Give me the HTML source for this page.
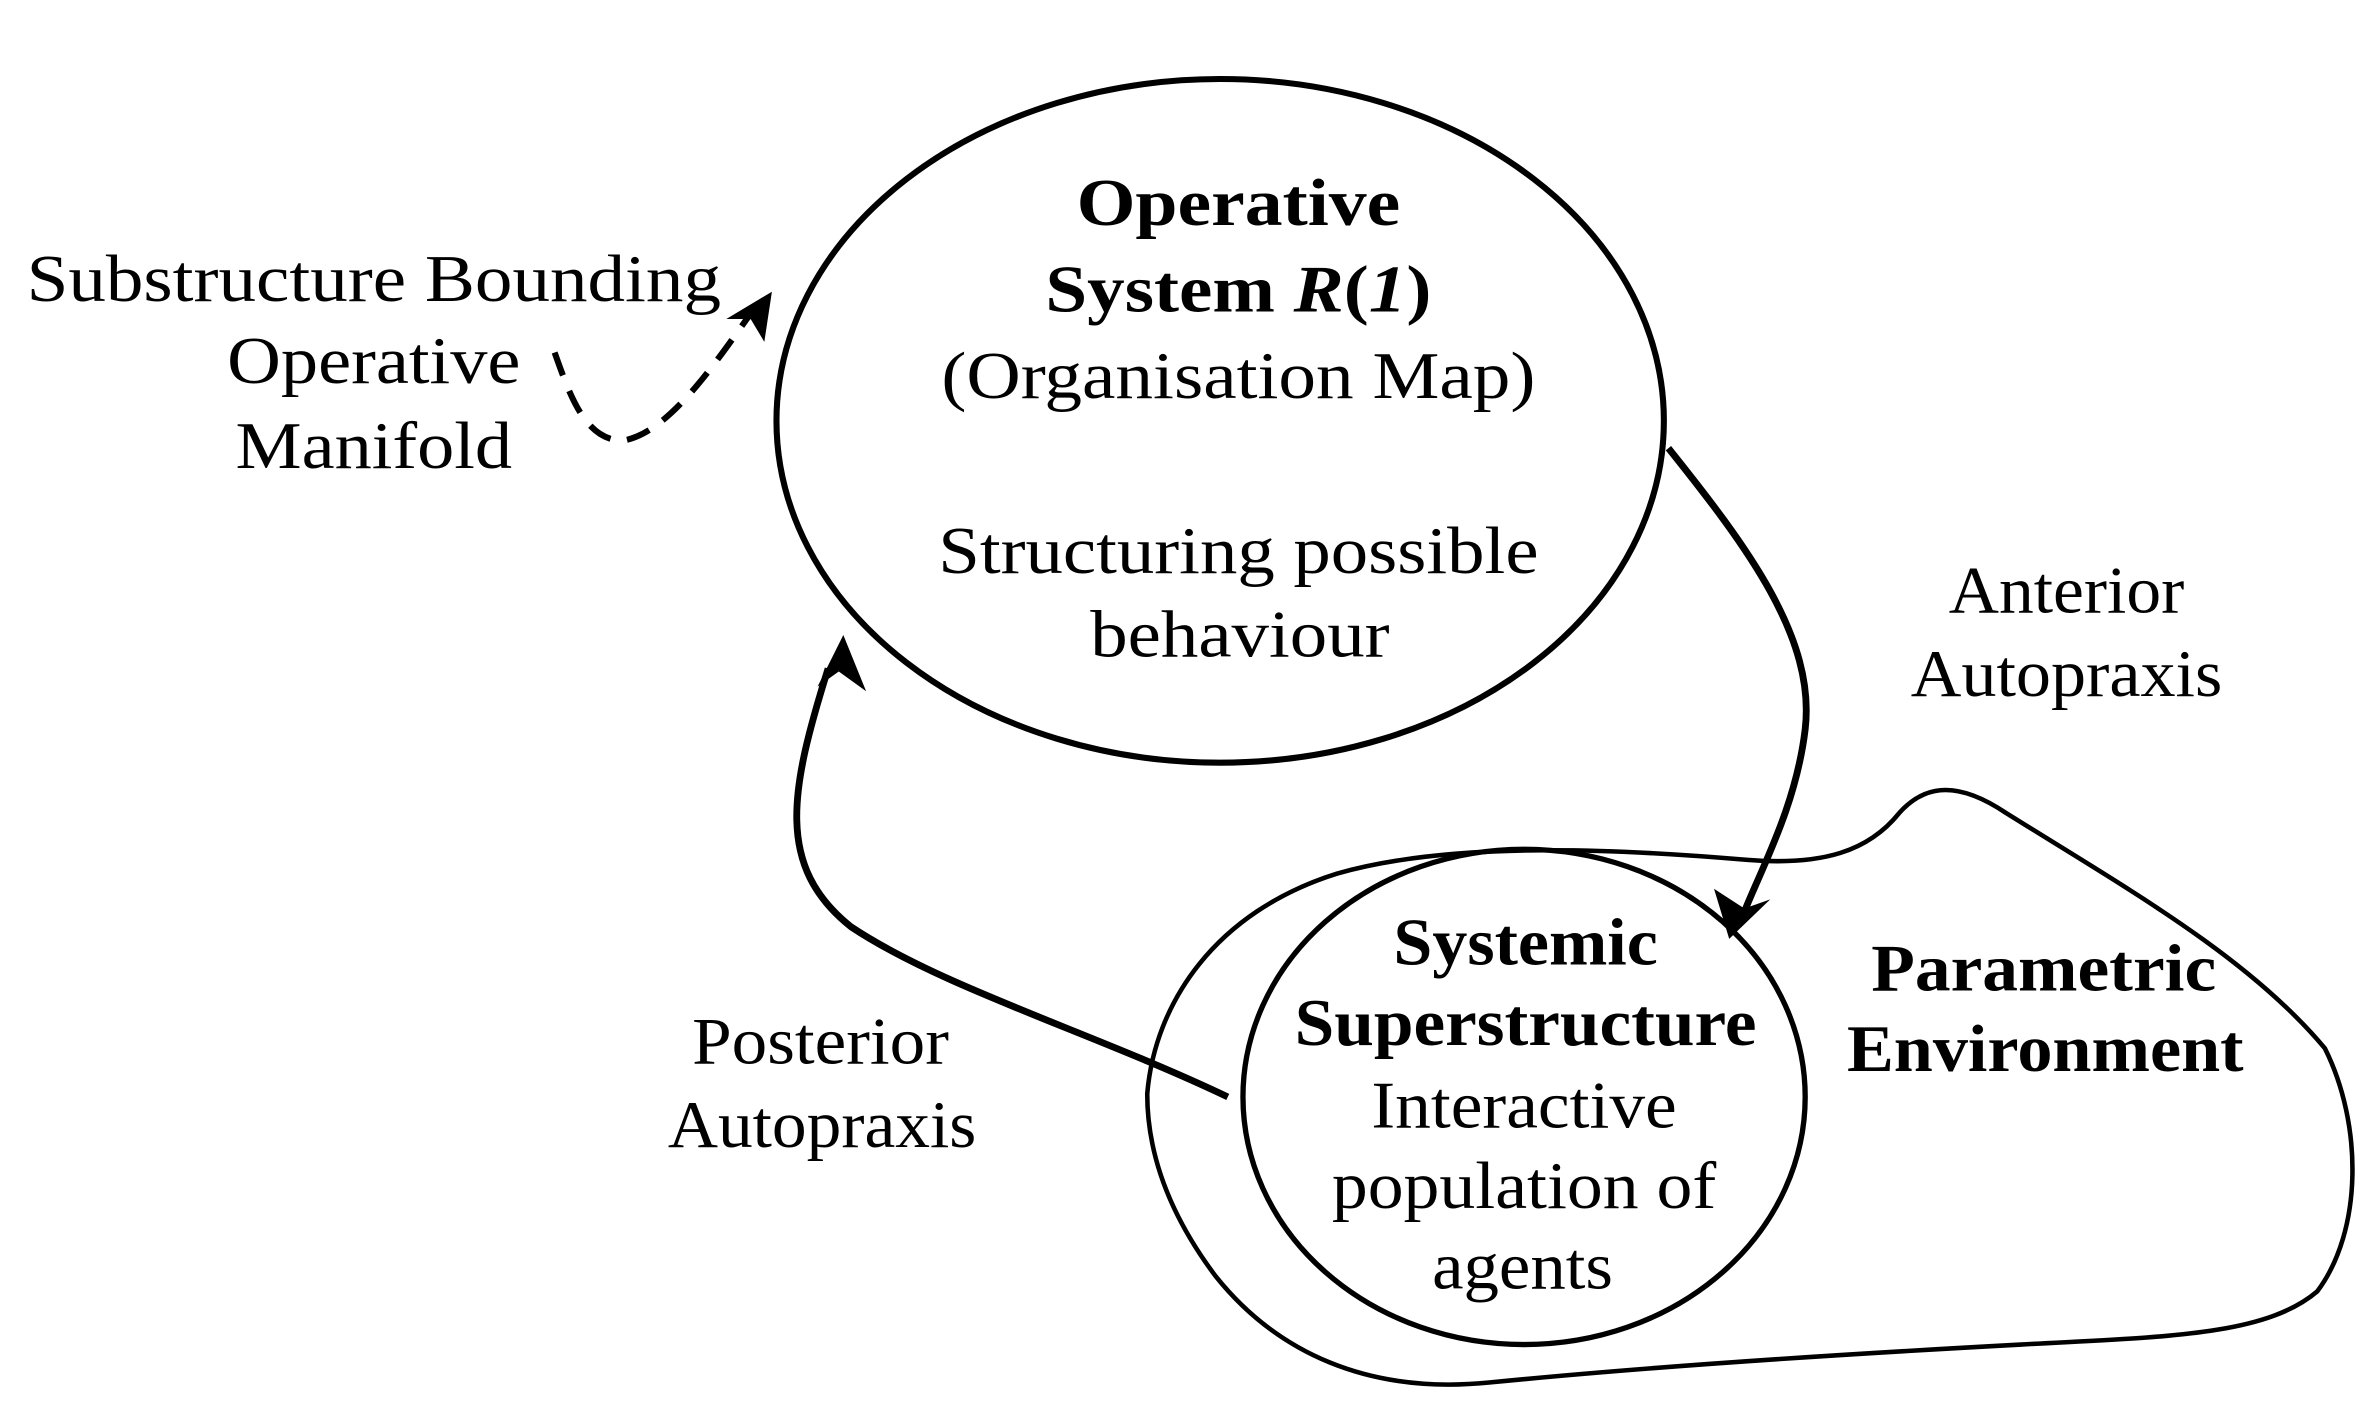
<!DOCTYPE html>
<html><head><meta charset="utf-8"><style>html,body{margin:0;padding:0;background:#fff}svg{display:block}</style></head>
<body>
<svg width="2375" height="1419" viewBox="0 0 1563 934" preserveAspectRatio="none" xmlns="http://www.w3.org/2000/svg" font-family="Liberation Serif, serif" font-size="44" text-anchor="middle">
<defs>
<marker id="ah" viewBox="0 0 10 10" refX="9" refY="5" markerWidth="7" markerHeight="7" orient="auto" markerUnits="userSpaceOnUse">
</marker>
</defs>
<g fill="none" stroke="#000">
<ellipse cx="803" cy="277" rx="292" ry="225" stroke-width="4"/>
<path d="M755,720 C760,660 800,600 880,575 C960,552 1080,560 1150,566 C1200,570 1230,560 1250,535 C1268,515 1290,515 1320,535 C1400,585 1480,630 1530,690 C1555,740 1555,810 1525,850 C1490,880 1420,880 1330,885 C1200,892 1080,900 980,910 C900,918 840,890 800,840 C770,800 755,760 755,720 Z" stroke-width="3"/>
<ellipse cx="1003" cy="722" rx="185" ry="163" stroke-width="3.5"/>
<path d="M1098,295 C1150,360 1195,420 1188,480 C1182,530 1160,570 1148,600" stroke-width="4.5"/>
<path d="M808,722 C720,680 620,650 560,610 C510,570 520,520 545,440" stroke-width="4.5"/>
<path d="M365,232 C375,260 385,290 410,290 C440,285 470,240 495,205" stroke-width="4" stroke-dasharray="16,11"/>
</g>
<g fill="#000">
<polygon points="1138,618 1128,585 1148,598 1165,592"/>
<polygon points="555,418 570,455 552,442 538,452"/>
<polygon points="508,192 503,225 494,210 478,210"/>
</g>
<g>
<text x="246" y="198" textLength="457" lengthAdjust="spacingAndGlyphs">Substructure Bounding</text>
<text x="246" y="252" textLength="193" lengthAdjust="spacingAndGlyphs">Operative</text>
<text x="246" y="308" textLength="182" lengthAdjust="spacingAndGlyphs">Manifold</text>
<text x="815" y="148" font-weight="bold" textLength="213" lengthAdjust="spacingAndGlyphs">Operative</text>
<text x="815" y="205" font-weight="bold" textLength="254" lengthAdjust="spacingAndGlyphs">System <tspan font-style="italic">R</tspan>(<tspan font-style="italic">1</tspan>)</text>
<text x="815" y="262" textLength="391" lengthAdjust="spacingAndGlyphs">(Organisation Map)</text>
<text x="815" y="377" textLength="395" lengthAdjust="spacingAndGlyphs">Structuring possible</text>
<text x="816" y="432" textLength="197" lengthAdjust="spacingAndGlyphs">behaviour</text>
<text x="1360" y="403" textLength="155" lengthAdjust="spacingAndGlyphs">Anterior</text>
<text x="1360" y="458" textLength="205" lengthAdjust="spacingAndGlyphs">Autopraxis</text>
<text x="540" y="700" textLength="169" lengthAdjust="spacingAndGlyphs">Posterior</text>
<text x="541" y="755" textLength="203" lengthAdjust="spacingAndGlyphs">Autopraxis</text>
<text x="1004" y="635" font-weight="bold" textLength="174" lengthAdjust="spacingAndGlyphs">Systemic</text>
<text x="1004" y="688" font-weight="bold" textLength="304" lengthAdjust="spacingAndGlyphs">Superstructure</text>
<text x="1003" y="742" textLength="201" lengthAdjust="spacingAndGlyphs">Interactive</text>
<text x="1003" y="795" textLength="253" lengthAdjust="spacingAndGlyphs">population of</text>
<text x="1002" y="848" textLength="119" lengthAdjust="spacingAndGlyphs">agents</text>
<text x="1345" y="652" font-weight="bold" textLength="227" lengthAdjust="spacingAndGlyphs">Parametric</text>
<text x="1346" y="705" font-weight="bold" textLength="261" lengthAdjust="spacingAndGlyphs">Environment</text>
</g>
</svg>
</body></html>
